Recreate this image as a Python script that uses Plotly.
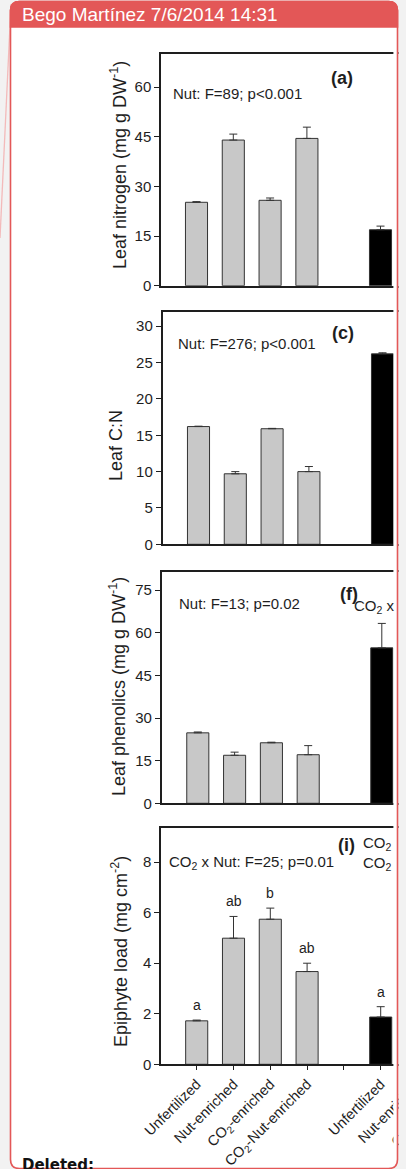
import plotly.graph_objects as go

# ---------------- data ----------------
categories = ["Unfertilized", "Nut-enriched", "CO<sub>2</sub>-enriched",
              "CO<sub>2</sub>-Nut-enriched", "", "Unfertilized", "Nut-enriched",
              "CO<sub>2</sub>-enriched"]
bar_positions = [0, 1, 2, 3, 5]
leaf_nitrogen = [25.2, 44.0, 25.8, 44.5, 16.9]
leaf_nitrogen_se = [0.2, 1.8, 0.7, 3.4, 1.1]
leaf_cn = [16.2, 9.7, 15.9, 10.0, 26.2]
leaf_cn_se = [0.05, 0.3, 0.05, 0.7, 0.15]
leaf_phenolics = [24.8, 16.9, 21.3, 17.1, 54.7]
leaf_phenolics_se = [0.3, 1.1, 0.2, 3.2, 8.6]
epiphyte_load = [1.72, 4.99, 5.74, 3.67, 1.87]
epiphyte_load_se = [0.03, 0.86, 0.44, 0.33, 0.41]
epiphyte_letters = ["a", "ab", "b", "ab", "a"]

panel_labels = ["(a)", "(c)", "(f)", "(i)"]
stats_text = ["Nut: F=89; p<0.001", "Nut: F=276; p<0.001",
              "Nut: F=13; p=0.02", "CO<sub>2</sub> x Nut: F=25; p=0.01"]
y_titles = ["Leaf nitrogen (mg g DW<sup>-1</sup>)", "Leaf C:N",
            "Leaf phenolics (mg g DW<sup>-1</sup>)", "Epiphyte load (mg cm<sup>-2</sup>)"]
y_ticks = [[0, 15, 30, 45, 60], [0, 5, 10, 15, 20, 25, 30],
           [0, 15, 30, 45, 60, 75], [0, 2, 4, 6, 8]]
y_max = [70, 32, 81.5, 9.35]
cropped_text = ["CO<sub>2</sub> x", "CO<sub>2</sub>", "CO<sub>2</sub>"]
comment_author = "Bego Martínez 7/6/2014 14:31"
comment_action = "Deleted:"

values = [leaf_nitrogen, leaf_cn, leaf_phenolics, epiphyte_load]
errors = [leaf_nitrogen_se, leaf_cn_se, leaf_phenolics_se, epiphyte_load_se]

# ---------------- layout geometry (pixels) ----------------
W, H = 520, 1169
S = 36.8  # pixels per category
geom = [
    dict(top=54, bot=285.7, left=161, c0=196.5, tx=119, ty=165, lab=(341.5, 78), st=(170.5, 93.3)),
    dict(top=311.7, bot=544.3, left=162.5, c0=198.5, tx=116, ty=446, lab=(343.3, 333.3), st=(175.5, 343.3)),
    dict(top=571.7, bot=803.3, left=161.7, c0=197.8, tx=117, ty=687, lab=(348.5, 593.5), st=(176.5, 603.3)),
    dict(top=828, bot=1064.3, left=161, c0=196.7, tx=119, ty=952, lab=(346.5, 845), st=(166.5, 862.7)),
]
crop_pos = [(352, 606), (360.5, 843), (360.5, 863)]

FONT = "Liberation Sans, Arial, sans-serif"
INK = "#1e1e1e"
GREY = "#c8c8c8"
bar_colors = [GREY, GREY, GREY, GREY, "#000000"]


def fx(px):
    return px / W


def fy(py):
    return 1 - py / H


fig = go.Figure()
layout = dict(
    width=W, height=H, margin=dict(l=0, r=0, t=0, b=0, pad=0),
    paper_bgcolor="#f2f2f2", plot_bgcolor="rgba(0,0,0,0)",
    showlegend=False, template="none",
    font=dict(family=FONT, color=INK, size=15),
)
annotations = []

for k, g in enumerate(geom):
    xa = "x" if k == 0 else f"x{k+1}"
    ya = "y" if k == 0 else f"y{k+1}"
    xkey = "xaxis" if k == 0 else f"xaxis{k+1}"
    ykey = "yaxis" if k == 0 else f"yaxis{k+1}"

    fig.add_trace(go.Bar(
        x=bar_positions, y=values[k], width=0.6, xaxis=xa, yaxis=ya,
        marker=dict(color=bar_colors, line=dict(color="#333333", width=1)),
        error_y=dict(type="data", symmetric=False, array=errors[k],
                     arrayminus=[0] * len(errors[k]), color="#333333",
                     thickness=1, width=4),
        hoverinfo="skip",
    ))

    last = k == len(geom) - 1
    xdict = dict(
        domain=[fx(g["left"]), 1], anchor=ya,
        range=[(g["left"] - g["c0"]) / S, (W - g["c0"]) / S],
        showline=True, mirror=True, linecolor=INK, linewidth=1.5,
        showgrid=False, zeroline=False, automargin=False, showticklabels=False,
    )
    if last:
        xdict.update(tickmode="array", tickvals=list(range(len(categories))),
                     ticktext=categories, showticklabels=True,
                     ticks="outside", ticklen=4, tickwidth=1, tickcolor=INK,
                     tickangle=-45, tickfont=dict(size=14.5, family=FONT, color=INK))
    layout[xkey] = xdict
    layout[ykey] = dict(
        domain=[fy(g["bot"]), fy(g["top"])], anchor=xa,
        range=[0, y_max[k]], tickmode="array", tickvals=y_ticks[k],
        showline=True, linecolor=INK, linewidth=1.5,
        showgrid=False, zeroline=False, automargin=False,
        ticks="outside", ticklen=5, tickwidth=1.2, tickcolor=INK,
        tickfont=dict(size=15, family=FONT, color=INK),
    )

    annotations.append(dict(
        text=y_titles[k], xref="paper", yref="paper", x=fx(g["tx"]), y=fy(g["ty"]),
        xanchor="center", yanchor="middle", textangle=-90, showarrow=False,
        font=dict(size=18, family=FONT, color=INK)))
    annotations.append(dict(
        text="<b>" + panel_labels[k] + "</b>", xref="paper", yref="paper",
        x=fx(g["lab"][0]), y=fy(g["lab"][1]), xanchor="center", yanchor="middle",
        showarrow=False, font=dict(size=18, family=FONT, color=INK)))
    annotations.append(dict(
        text=stats_text[k], xref="paper", yref="paper",
        x=fx(g["st"][0]), y=fy(g["st"][1]), xanchor="left", yanchor="middle",
        showarrow=False, font=dict(size=15, family=FONT, color=INK)))

for pos, v, e, let in zip(bar_positions, epiphyte_load, epiphyte_load_se, epiphyte_letters):
    annotations.append(dict(
        text=let, xref="x4", yref="y4", x=pos, y=v + e, xanchor="center",
        yanchor="bottom", yshift=5, showarrow=False,
        font=dict(size=14, family=FONT, color=INK)))

# fragments of text cut by the page crop at the right edge
for txt, (px, py) in zip(cropped_text, crop_pos):
    annotations.append(dict(
        text=txt, xref="paper", yref="paper", x=fx(px), y=fy(py),
        xanchor="left", yanchor="middle", showarrow=False,
        font=dict(size=15, family=FONT, color=INK)))

annotations.append(dict(
    text=comment_author, xref="paper", yref="paper", x=fx(19.5), y=fy(14.2),
    xanchor="left", yanchor="middle", showarrow=False,
    font=dict(size=19, family=FONT, color="#ffffff")))
annotations.append(dict(
    text="<b>" + comment_action + "</b>", xref="paper", yref="paper", x=fx(20),
    y=fy(1153.5), xanchor="left", yanchor="top", showarrow=False,
    font=dict(size=15, family="DejaVu Sans, Verdana, sans-serif", color="#111111")))


def P(px, py):
    return f"{fx(px):.6f},{fy(py):.6f}"


def rounded_rect(x0, y0, x1, y1, r):
    return ("M " + P(x0 + r, y0) + " L " + P(x1 - r, y0) + " Q " + P(x1, y0) + " " + P(x1, y0 + r)
            + " L " + P(x1, y1 - r) + " Q " + P(x1, y1) + " " + P(x1 - r, y1)
            + " L " + P(x0 + r, y1) + " Q " + P(x0, y1) + " " + P(x0, y1 - r)
            + " L " + P(x0, y0 + r) + " Q " + P(x0, y0) + " " + P(x0 + r, y0) + " Z")


BX0, BY0, BX1, BY1, R = 10.5, 1.5, 397.5, 1168.5, 9
RED = "#e35757"
shapes = [
    dict(type="line", xref="paper", yref="paper", x0=fx(11), y0=fy(4), x1=fx(0), y1=fy(238),
         line=dict(color="#f3baba", width=1.3), layer="below"),
    dict(type="path", xref="paper", yref="paper", path=rounded_rect(BX0, BY0, BX1, BY1, R),
         fillcolor="#ffffff", line=dict(width=0), layer="below"),
    dict(type="rect", xref="paper", yref="paper", x0=fx(398.5), x1=1, y0=0, y1=1,
         fillcolor="#f2f2f2", line=dict(width=0), layer="above"),
    dict(type="rect", xref="paper", yref="paper", x0=fx(393.4), x1=fx(397.6), y0=fy(1160), y1=fy(28),
         fillcolor="#ffffff", line=dict(width=0), layer="above"),
    dict(type="path", xref="paper", yref="paper", path=rounded_rect(BX0, BY0, BX1, BY1, R),
         fillcolor="rgba(0,0,0,0)", line=dict(color=RED, width=1.6), layer="above"),
    dict(type="path", xref="paper", yref="paper",
         path=("M " + P(BX0, 27) + " L " + P(BX0, BY0 + R) + " Q " + P(BX0, BY0) + " " + P(BX0 + R, BY0)
               + " L " + P(BX1 - R, BY0) + " Q " + P(BX1, BY0) + " " + P(BX1, BY0 + R)
               + " L " + P(BX1, 27) + " Z"),
         fillcolor=RED, line=dict(color=RED, width=1.6), layer="above"),
]

layout["annotations"] = annotations
layout["shapes"] = shapes
fig.update_layout(**layout)

js = "document.documentElement.style.margin='0';document.body.style.margin='0';"
fig.write_html("out.html", post_script=js, config={"displayModeBar": False})
